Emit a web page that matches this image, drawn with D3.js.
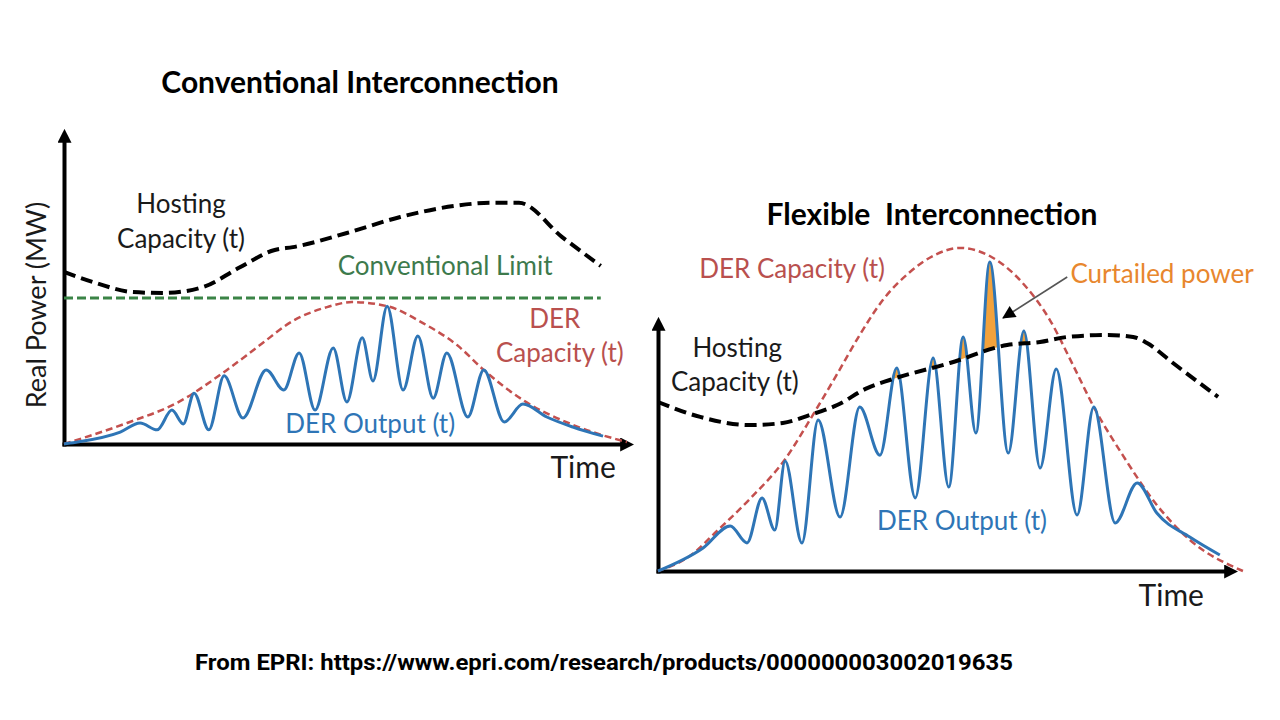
<!DOCTYPE html>
<html>
<head>
<meta charset="utf-8">
<script src="https://cdn.jsdelivr.net/npm/d3@7"></script>
<style>
body { margin: 0; background: #fff; }
text { font-family: Lato, "Open Sans", sans-serif; }
</style>
</head>
<body>
<script>
// Both panels use time 0..100 and power 0..100 (arbitrary units)

// Conventional interconnection
var convOutT = [0, 1.1, 9.9, 13.4, 16.4, 19.0, 21.0, 22.9, 25.5, 28.2, 31.5, 35.6, 38.7, 41.4, 44.2, 47.4, 49.8, 52.5, 54.4, 56.9, 59.7, 62.3, 65.0, 67.4, 71.1, 73.9, 77.5, 80.8, 85.0, 89.6, 94.9]
var convOutP = [0, 0.3, 3.8, 6.7, 4.5, 10.8, 6.4, 16.2, 4.5, 21.7, 8.3, 23.6, 17.2, 29.0, 10.8, 30.6, 13.4, 33.8, 20.1, 43.9, 17.2, 34.4, 14.6, 29.0, 8.6, 23.6, 7.0, 12.7, 8.6, 5.4, 2.5]
var convCapT = [0, 11.1, 19.9, 28.7, 34.5, 40.3, 46.3, 50.7, 56.9, 63.2, 69.2, 73.9, 80.8, 89.6, 99.1]
var convCapP = [0, 6.7, 13.1, 23.6, 31.5, 39.2, 43.6, 45.2, 43.9, 38.5, 31.5, 23.6, 14.0, 6.1, 0.6]
var convHostT = [0, 5.6, 12.0, 17.6, 24.5, 30.8, 37.1, 40.3, 49.8, 59.2, 68.7, 75.0, 80.1, 87.7, 94.5]
var convHostP = [54.8, 51.3, 48.4, 48.1, 50.0, 56.1, 61.8, 62.7, 67.2, 72.3, 75.8, 76.8, 76.8, 65.9, 56.7]
var convLimitP = 46.5
var convLimitT = [0, 94.5]

// Flexible interconnection
var flexOutT = [0, 7.8, 12.5, 15.4, 18.0, 20.2, 22.0, 24.9, 27.7, 31.5, 34.9, 38.4, 41.3, 44.5, 47.6, 50.3, 52.8, 55.0, 57.4, 60.6, 63.3, 66.1, 68.9, 72.5, 75.4, 79.1, 82.9, 86.3, 92.0, 97.2]
var flexOutP = [0, 9.1, 17.8, 11.1, 28.9, 16.2, 43.5, 11.1, 59.7, 21.3, 64.8, 45.8, 80.2, 28.9, 84.2, 33.2, 92.5, 54.5, 122.1, 46.6, 94.9, 40.7, 79.8, 22.1, 64.8, 19.0, 34.8, 22.9, 13.4, 6.3]
var flexCapT = [0, 5.5, 10.2, 15.9, 21.9, 26.8, 30.9, 34.9, 38.9, 43.6, 47.9, 52.2, 57.4, 63.1, 67.8, 71.8, 75.4, 80.4, 86.3, 92.0, 101.2]
var flexCapP = [0, 5.9, 15.8, 28.5, 43.9, 61.7, 77.5, 93.3, 107.1, 118.2, 124.9, 127.7, 124.5, 113.8, 99.2, 81.4, 64.8, 45.8, 26.1, 12.3, 0]
var flexHostT = [0, 7.3, 15.9, 21.6, 26.3, 31.0, 36.2, 40.1, 50.5, 60.4, 66.1, 70.8, 77.7, 82.2, 84.6, 89.1, 96.9]
var flexHostP = [66.8, 60.9, 57.7, 58.5, 61.7, 65.6, 72.3, 75.5, 82.2, 89.3, 90.5, 92.5, 93.3, 92.5, 90.1, 82.2, 68.8]

var blue = '#2e75b6'
var red = '#c4504e'
var green = '#3b8446'
var orange = '#f2a23c'

var svg = d3.select('body')
    .append('svg')
    .attr('width', 1280)
    .attr('height', 720)

var defs = svg.append('defs')
defs.append('marker')
    .attr('id', 'axisArrow')
    .attr('viewBox', '0 0 12 12')
    .attr('markerUnits', 'userSpaceOnUse')
    .attr('markerWidth', 14).attr('markerHeight', 14)
    .attr('refX', 2).attr('refY', 6)
    .attr('orient', 'auto')
    .append('path').attr('d', 'M0,0L12,6L0,12z').attr('fill', '#000')
defs.append('marker')
    .attr('id', 'pointer')
    .attr('viewBox', '0 0 12 12')
    .attr('markerUnits', 'userSpaceOnUse')
    .attr('markerWidth', 16).attr('markerHeight', 13)
    .attr('refX', 11).attr('refY', 6)
    .attr('orient', 'auto')
    .append('path').attr('d', 'M0,0L12,6L0,12z').attr('fill', '#000')

function pairs(t, p) { return d3.zip(t, p) }

function panel(cfg) {
    var x = d3.scaleLinear().domain([0, 100]).range(cfg.xRange)
    var y = d3.scaleLinear().domain([0, 100]).range(cfg.yRange)
    var g = svg.append('g')

    var line = d3.line()
        .x(function (d) { return x(d[0]) })
        .y(function (d) { return y(d[1]) })
        .curve(d3.curveMonotoneX)

    // axes: no ticks, just arrows
    g.append('g')
        .attr('transform', 'translate(' + x(0) + ',0)')
        .call(d3.axisLeft(y.copy().range([y(0) + 2, y(100) + 10])).tickValues([]).tickSizeOuter(0))
    g.append('g')
        .attr('transform', 'translate(0,' + y(0) + ')')
        .call(d3.axisBottom(x.copy().range([x(0) - 2, x(100) - 10])).tickValues([]).tickSizeOuter(0))
    g.selectAll('.domain')
        .attr('stroke', '#000')
        .attr('stroke-width', 4)
        .attr('marker-end', 'url(#axisArrow)')

    if (cfg.curtail) {
        // curtailed = under DER output but above hosting capacity
        var clipId = 'clip' + cfg.id
        g.append('clipPath').attr('id', clipId)
            .append('path')
            .attr('d', d3.area()
                .x(function (d) { return x(d[0]) })
                .y0(function (d) { return y(d[1]) })
                .y1(0)
                .curve(d3.curveMonotoneX)(cfg.host))
        g.append('path')
            .attr('clip-path', 'url(#' + clipId + ')')
            .attr('fill', orange)
            .attr('d', d3.area()
                .x(function (d) { return x(d[0]) })
                .y0(y(0))
                .y1(function (d) { return y(d[1]) })
                .curve(d3.curveMonotoneX)(cfg.output))
    }

    if (cfg.limit) {
        g.append('path')
            .attr('d', d3.line()
                .x(function (d) { return x(d[0]) })
                .y(function (d) { return y(d[1]) })(cfg.limit))
            .attr('fill', 'none')
            .attr('stroke', green)
            .attr('stroke-width', 3)
            .attr('stroke-dasharray', '9,4')
    }

    g.append('path')
        .attr('d', line(cfg.cap))
        .attr('fill', 'none')
        .attr('stroke', red)
        .attr('stroke-width', 2.5)
        .attr('stroke-dasharray', '7,4')

    g.append('path')
        .attr('d', line(cfg.output))
        .attr('fill', 'none')
        .attr('stroke', blue)
        .attr('stroke-width', 3)

    g.append('path')
        .attr('d', line(cfg.host))
        .attr('fill', 'none')
        .attr('stroke', '#000')
        .attr('stroke-width', 4)
        .attr('stroke-dasharray', '12,6')

    cfg.labels.forEach(function (l) {
        g.append('text')
            .attr('x', x(l.t))
            .attr('y', y(l.p))
            .attr('text-anchor', 'middle')
            .attr('font-size', l.size || 26)
            .attr('fill', l.color || '#1a1a1a')
            .text(l.text)
    })

    if (cfg.pointer) {
        g.append('line')
            .attr('x1', x(cfg.pointer[0][0])).attr('y1', y(cfg.pointer[0][1]))
            .attr('x2', x(cfg.pointer[1][0])).attr('y2', y(cfg.pointer[1][1]))
            .attr('stroke', '#555')
            .attr('stroke-width', 1.6)
            .attr('marker-end', 'url(#pointer)')
    }
}

panel({
    id: 'conv',
    xRange: [64, 632],
    yRange: [444, 130],
    output: pairs(convOutT, convOutP),
    cap: pairs(convCapT, convCapP),
    host: pairs(convHostT, convHostP),
    limit: convLimitT.map(function (t) { return [t, convLimitP] }),
    labels: [
        { text: 'Hosting', t: 20.6, p: 73.6 },
        { text: 'Capacity (t)', t: 20.6, p: 62.4 },
        { text: 'Conventional Limit', t: 67.1, p: 53.8, color: '#3d7a4c' },
        { text: 'DER', t: 86.4, p: 36.9, color: '#b9504e' },
        { text: 'Capacity (t)', t: 87.3, p: 26.1, color: '#b9504e' },
        { text: 'DER Output (t)', t: 53.9, p: 3.5, color: blue },
        { text: 'Time', t: 91.4, p: -10.8, size: 30 }
    ]
})

panel({
    id: 'flex',
    xRange: [658, 1236],
    yRange: [571, 318],
    output: pairs(flexOutT, flexOutP),
    cap: pairs(flexCapT, flexCapP),
    host: pairs(flexHostT, flexHostP),
    curtail: true,
    pointer: [[70.8, 116.2], [59.7, 100]],
    labels: [
        { text: 'DER Capacity (t)', t: 23.2, p: 115.8, color: '#b9504e' },
        { text: 'Curtailed power', t: 87.2, p: 113.8, color: '#e8872e' },
        { text: 'Hosting', t: 13.7, p: 84.6 },
        { text: 'Capacity (t)', t: 13.3, p: 71.1 },
        { text: 'DER Output (t)', t: 52.6, p: 16.2, color: blue },
        { text: 'Time', t: 88.8, p: -13.8, size: 30 }
    ]
})

svg.append('text')
    .attr('transform', 'translate(46,305) rotate(-90)')
    .attr('text-anchor', 'middle')
    .attr('font-size', 27)
    .attr('fill', '#1a1a1a')
    .text('Real Power (MW)')

svg.append('text')
    .attr('x', 360).attr('y', 93)
    .attr('text-anchor', 'middle')
    .attr('font-size', 30)
    .attr('font-weight', 'bold')
    .text('Conventional Interconnection')

svg.append('text')
    .attr('x', 932).attr('y', 225)
    .attr('text-anchor', 'middle')
    .attr('font-size', 30)
    .attr('font-weight', 'bold')
    .style('white-space', 'pre')
    .text('Flexible  Interconnection')

svg.append('text')
    .attr('x', 604).attr('y', 670)
    .attr('text-anchor', 'middle')
    .attr('font-size', 22)
    .attr('font-weight', 'bold')
    .attr('textLength', 818)
    .attr('lengthAdjust', 'spacingAndGlyphs')
    .style('font-family', '"Liberation Sans Narrow", Roboto, sans-serif')
    .text('From EPRI: https://www.epri.com/research/products/000000003002019635')
</script>
</body>
</html>
